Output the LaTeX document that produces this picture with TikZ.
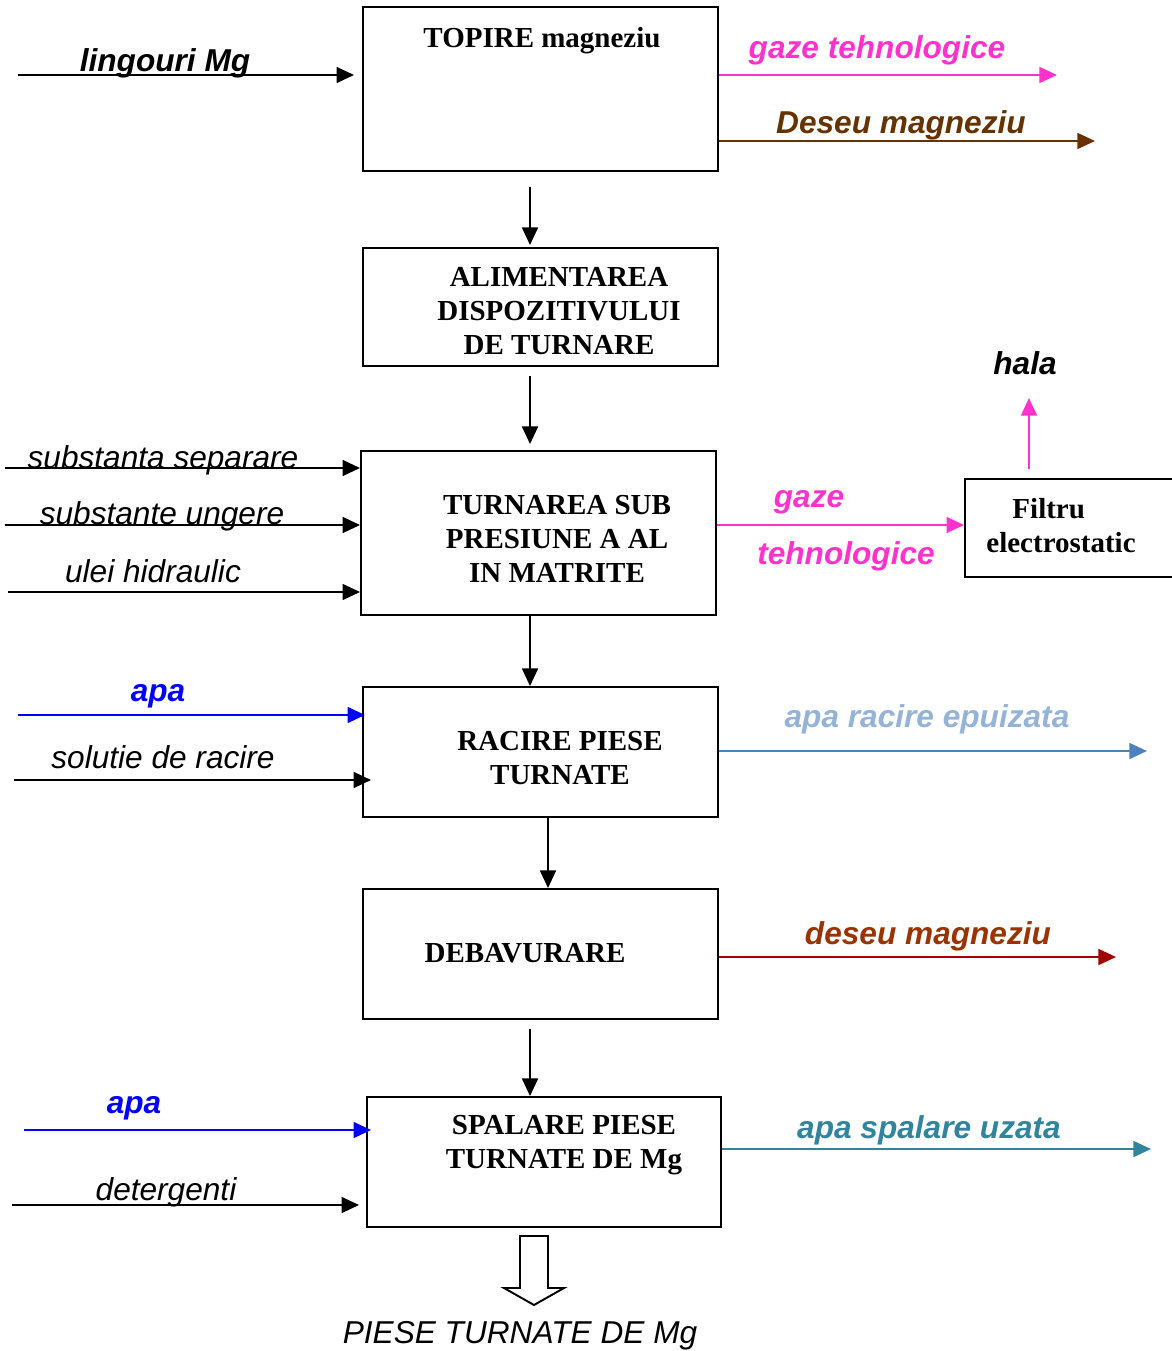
\documentclass[tikz,border=0pt]{standalone}
\usepackage{fontspec}
\setmainfont{Liberation Serif}
\setsansfont{Liberation Sans}
\usetikzlibrary{arrows.meta}
\definecolor{pinkc}{HTML}{FF33CC}
\definecolor{brownc}{HTML}{663300}
\definecolor{bluec}{HTML}{0000FF}
\definecolor{lbtxt}{HTML}{95B3D7}
\definecolor{lbline}{HTML}{4F81BD}
\definecolor{drtxt}{HTML}{993300}
\definecolor{drline}{HTML}{A00000}
\definecolor{tealc}{HTML}{31849B}
\begin{document}
\begin{tikzpicture}[x=0.02cm,y=-0.02cm,
  box/.style={draw, line width=1.1pt, inner sep=0, minimum width=7.1cm},
  boxtxt/.style={inner sep=0, align=center, font=\rmfamily\bfseries\fontsize{16.5}{19.35}\selectfont},
  lblbi/.style={inner sep=0, font=\sffamily\bfseries\itshape\fontsize{18}{21}\selectfont},
  lbli/.style={inner sep=0, font=\sffamily\itshape\fontsize{18}{21}\selectfont},
  arr/.style={line width=1.3pt, -{Triangle[length=10pt,width=9pt]}},
]
\useasboundingbox (0,0) rectangle (1171,1351);

% process boxes
\node[box, minimum height=3.28cm] (b1) at (540.5,89) {};
\node[box, minimum height=2.36cm] (b2) at (540.5,307) {};
\node[box, minimum height=3.28cm] (b3) at (538.5,533) {};
\node[box, minimum height=2.6cm] (b4) at (540.5,752) {};
\node[box, minimum height=2.6cm] (b5) at (540.5,954) {};
\node[box, minimum height=2.6cm, minimum width=7.08cm] (b6) at (544,1162) {};
\node[box, minimum height=1.96cm, minimum width=4.3cm] (filt) at (1072.5,528) {};

% box texts
\node[boxtxt] (t1) at (542,41) {TOPIRE magneziu};
\node[boxtxt] (t2) at (559,311) {ALIMENTAREA\\DISPOZITIVULUI\\DE TURNARE};
\node[boxtxt] (t3) at (557,539) {TURNAREA SUB\\PRESIUNE A AL\\IN MATRITE};
\node[boxtxt] (t4) at (560,758) {RACIRE PIESE\\TURNATE};
\node[boxtxt] (t5) at (525,953) {DEBAVURARE};
\node[boxtxt] (t6) at (564,1145) {SPALARE PIESE\\TURNATE DE Mg};
\node[boxtxt] (t7) at (1061,526) {\hspace*{-14pt}Filtru\\electrostatic};

% vertical flow arrows
\coordinate (v1) at (530,0);
\coordinate (v2) at (548,0);
\draw[arr, shorten <=0.3cm, shorten >=0.04cm] (b1.south -| v1) -- (b2.north -| v1);
\draw[arr, shorten <=0.18cm, shorten >=0.12cm] (b2.south -| v1) -- (b3.north -| v1);
\draw[arr] (b3.south -| v1) -- (b4.north -| v1);
\draw[arr] (b4.south -| v2) -- (b5.north -| v2);
\draw[arr, shorten <=0.18cm] (b5.south -| v1) -- (b6.north -| v1);

% inputs
\coordinate (i1) at (18,75);
\coordinate (i2) at (5,468);
\coordinate (i3) at (5,525);
\coordinate (i4) at (8,592);
\coordinate (i5) at (18,715);
\coordinate (i6) at (14,780);
\coordinate (i7) at (24,1130);
\coordinate (i8) at (12,1205);
\draw[arr, shorten >=0.16cm] (i1) -- (i1 -| b1.west);
\draw[arr] (i2) -- (i2 -| b3.west);
\draw[arr] (i3) -- (i3 -| b3.west);
\draw[arr] (i4) -- (i4 -| b3.west);
\draw[arr, bluec, shorten >=-0.06cm] (i5) -- (i5 -| b4.west);
\draw[arr, shorten >=-0.18cm] (i6) -- (i6 -| b4.west);
\draw[arr, bluec, shorten >=-0.1cm] (i7) -- (i7 -| b6.west);
\draw[arr, shorten >=0.14cm] (i8) -- (i8 -| b6.west);

% outputs
\coordinate (o1) at (1057,75);
\coordinate (o2) at (1095,141);
\coordinate (o3) at (0,525);
\coordinate (o4) at (1029,398);
\coordinate (o5) at (1147,751);
\coordinate (o6) at (1116,957);
\coordinate (o7) at (1151,1149);
\draw[arr, pinkc] (o1 -| b1.east) -- (o1);
\draw[arr, brownc] (o2 -| b1.east) -- (o2);
\draw[arr, pinkc] (o3 -| b3.east) -- (o3 -| filt.west);
\draw[arr, pinkc, shorten <=0.18cm] (o4 |- filt.north) -- (o4);
\draw[arr, lbline] (o5 -| b4.east) -- (o5);
\draw[arr, drline] (o6 -| b5.east) -- (o6);
\draw[arr, tealc] (o7 -| b6.east) -- (o7);

% hollow output arrow
\draw[line width=1.1pt, fill=white] (520,1236) -- (548,1236) -- (548,1288) -- (564,1288)
  -- (534,1305) -- (504,1288) -- (520,1288) -- cycle;

% labels
\node[lblbi] (l1) at (165,63) {lingouri Mg};
\node[lblbi, pinkc] (l2) at (877,50) {gaze tehnologice};
\node[lblbi, brownc] (l3) at (901,125) {Deseu magneziu};
\node[lblbi] (l4) at (1025,363) {hala};
\node[lblbi, pinkc] (l5) at (809,502) {gaze};
\node[lblbi, pinkc] (l6) at (846,556) {tehnologice};
\node[lbli] (l7) at (163,460) {substanta separare};
\node[lbli] (l8) at (162,516) {substante ungere};
\node[lbli] (l9) at (153,571) {ulei hidraulic};
\node[lblbi, bluec] (l10) at (158,696) {apa};
\node[lbli] (l11) at (163,757) {solutie de racire};
\node[lblbi, lbtxt] (l12) at (927,719) {apa racire epuizata};
\node[lblbi, drtxt] (l13) at (928,936) {deseu magneziu};
\node[lblbi, bluec] (l14) at (134,1108) {apa};
\node[lbli] (l15) at (166,1192) {detergenti};
\node[lblbi, tealc] (l16) at (929,1130) {apa spalare uzata};
\node[lbli] (l17) at (520,1336) {PIESE TURNATE DE Mg};
\end{tikzpicture}
\end{document}
